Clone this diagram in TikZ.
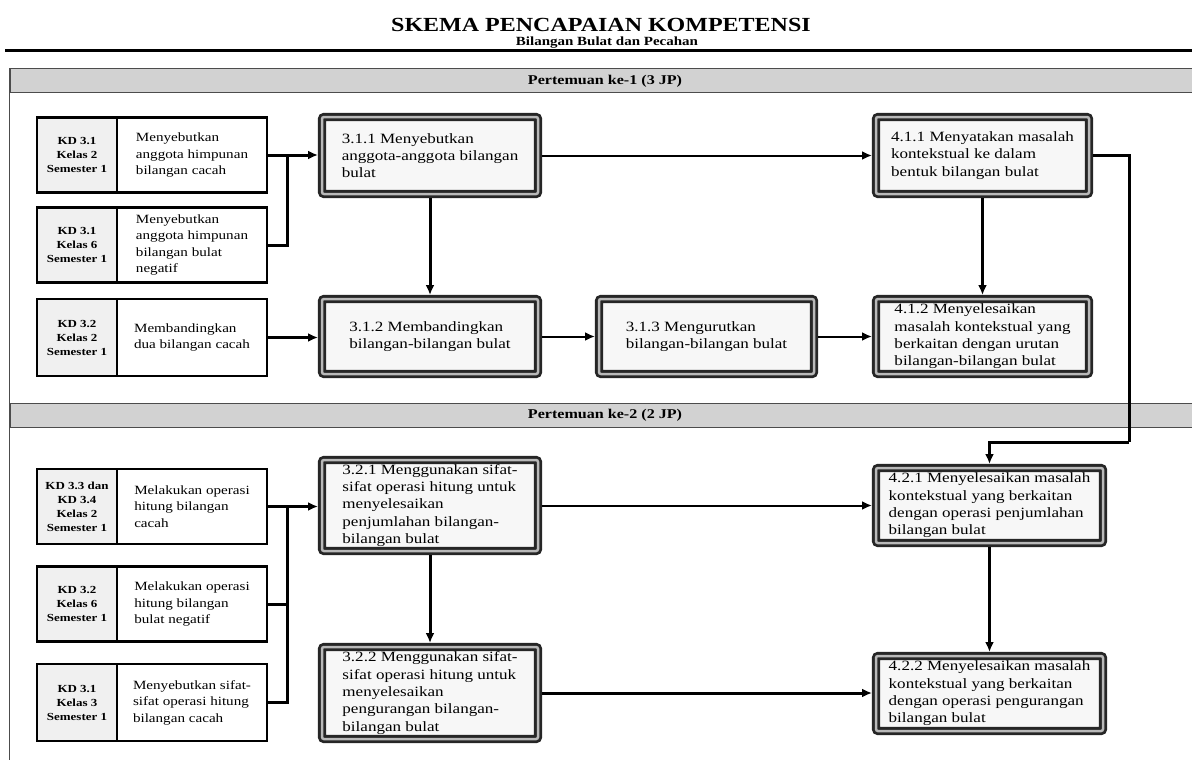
\documentclass[tikz,border=0pt]{standalone}
\usepackage{fontspec}
\setmainfont{Liberation Serif}[FakeStretch=1.2]
\usetikzlibrary{arrows.meta}

\begin{document}
\begin{tikzpicture}[
    x=1pt,y=-1pt,
    kd/.style={draw,line width=2.5pt,fill=gray!12,minimum width=80,minimum height=75,align=center,inner sep=2pt,font=\bfseries\fontsize{10.8}{14}\selectfont},
    desc/.style={draw,line width=2.5pt,fill=white,minimum width=150,minimum height=75,align=left,inner sep=2pt,font=\fontsize{12.6}{16.5}\selectfont},
    komp/.style={draw=black!85,line width=2.8pt,double=gray!55,double distance=2.5pt,rounded corners=2pt,fill=gray!6,outer sep=4pt,align=left,inner sep=2pt,font=\fontsize{14.2}{17.3}\selectfont},
    band/.style={draw=gray!60!black,line width=1pt,fill=gray!35,minimum width=1190,minimum height=24,font=\bfseries\fontsize{13.4}{16}\selectfont},
    line/.style={line width=2pt},
    heavy/.style={line width=3pt},
    tip/.style={-{Latex[length=10pt,width=9pt]}}
    ]
    \useasboundingbox (0,0) rectangle (1192,760);
    \node[font=\bfseries\fontsize{20}{23}\selectfont] (judul) at (601,25) {SKEMA PENCAPAIAN KOMPETENSI};
    \node[font=\bfseries\fontsize{12.5}{15}\selectfont] (subjudul) at (607,43) {Bilangan Bulat dan Pecahan};
    \draw[line width=3pt] (5,51) -- (1192,51);
    \node[band] (p1) at (605,81) {Pertemuan ke-1 (3 JP)};
    \node[band] (p2) at (605,415.5) {Pertemuan ke-2 (2 JP)};
    \draw[gray!60!black, line width=1pt] (p1.north west) -- (p1.north west |- 0,760);

    \node[kd] (kd11) at (77,155) {KD 3.1\\Kelas 2\\Semester 1};
    \node[desc] (d11) at (192,155) {Menyebutkan\\anggota himpunan\\bilangan cacah};
    \node[kd] (kd12) at (77,245) {KD 3.1\\Kelas 6\\Semester 1};
    \node[desc] (d12) at (192,245) {Menyebutkan\\anggota himpunan\\bilangan bulat\\negatif};
    \node[kd,minimum height=77] (kd13) at (77,337.5) {KD 3.2\\Kelas 2\\Semester 1};
    \node[desc,minimum height=77] (d13) at (192,337.5) {Membandingkan\\dua bilangan cacah};

    \node[komp,minimum width=216,minimum height=77] (b311) at (430,155.5) {3.1.1 Menyebutkan\\anggota-anggota bilangan\\bulat};
    \node[komp,minimum width=216,minimum height=75] (b312) at (430,336.5) {3.1.2 Membandingkan\\bilangan-bilangan bulat};
    \node[komp,minimum width=215,minimum height=75] (b313) at (706.5,336.5) {3.1.3 Mengurutkan\\bilangan-bilangan bulat};
    \node[komp,minimum width=213,minimum height=77] (b411) at (982.5,155.5) {4.1.1 Menyatakan masalah\\kontekstual ke dalam\\bentuk bilangan bulat};
    \node[komp,minimum width=213,minimum height=75] (b412) at (982.5,336.5) {4.1.2 Menyelesaikan\\masalah kontekstual yang\\berkaitan dengan urutan\\bilangan-bilangan bulat};

    \coordinate (j1) at (287,155);
    \coordinate (c1) at (1129,442);
    \draw[heavy,tip] (d11.east) -- (d11.east -| b311.west);
    \draw[heavy] (d12.east) -| (j1);
    \draw[heavy,tip] (d13.east) -- (d13.east -| b312.west);
    \draw[line,tip] (b311.east) -- (b311.east -| b411.west);
    \draw[heavy,tip] (b311.south) -- (b312.north);
    \draw[line,tip] (b312) -- (b313);
    \draw[line,tip] (b313) -- (b412);
    \draw[heavy,tip] (b411.south) -- (b412.north);

    \node[kd] (kd21) at (77,506.5) {KD 3.3 dan\\KD 3.4\\Kelas 2\\Semester 1};
    \node[desc] (d21) at (192,506.5) {Melakukan operasi\\hitung bilangan\\cacah};
    \node[kd] (kd22) at (77,604) {KD 3.2\\Kelas 6\\Semester 1};
    \node[desc] (d22) at (192,604) {Melakukan operasi\\hitung bilangan\\bulat negatif};
    \node[kd,minimum height=77] (kd23) at (77,702.5) {KD 3.1\\Kelas 3\\Semester 1};
    \node[desc,minimum height=77] (d23) at (192,702.5) {Menyebutkan sifat-\\sifat operasi hitung\\bilangan cacah};

    \node[komp,minimum width=216,minimum height=91] (b321) at (430,505.5) {3.2.1 Menggunakan sifat-\\sifat operasi hitung untuk\\menyelesaikan\\penjumlahan bilangan-\\bilangan bulat};
    \node[komp,minimum width=216,minimum height=92] (b322) at (430,693) {3.2.2 Menggunakan sifat-\\sifat operasi hitung untuk\\menyelesaikan\\pengurangan bilangan-\\bilangan bulat};
    \node[komp,minimum width=227,minimum height=75] (b421) at (989.5,505.5) {4.2.1 Menyelesaikan masalah\\kontekstual yang berkaitan\\dengan operasi penjumlahan\\bilangan bulat};
    \node[komp,minimum width=227,minimum height=75] (b422) at (989.5,693.5) {4.2.2 Menyelesaikan masalah\\kontekstual yang berkaitan\\dengan operasi pengurangan\\bilangan bulat};

    \coordinate (j2) at (287,506.5);
    \draw[heavy] (b411.east) -| (c1);
    \draw[heavy,tip] (c1) -| (b421.north);
    \draw[heavy,tip] (d21.east) -- (d21.east -| b321.west);
    \draw[heavy] (d22.east) -| (j2);
    \draw[heavy] (d23.east) -| (j2);
    \draw[line,tip] (b321.east) -- (b321.east -| b421.west);
    \draw[heavy,tip] (b322.east) -- (b322.east -| b422.west);
    \draw[heavy,tip] (b321.south) -- (b322.north);
    \draw[heavy,tip] (b421.south) -- (b422.north);
\end{tikzpicture}
\end{document}
